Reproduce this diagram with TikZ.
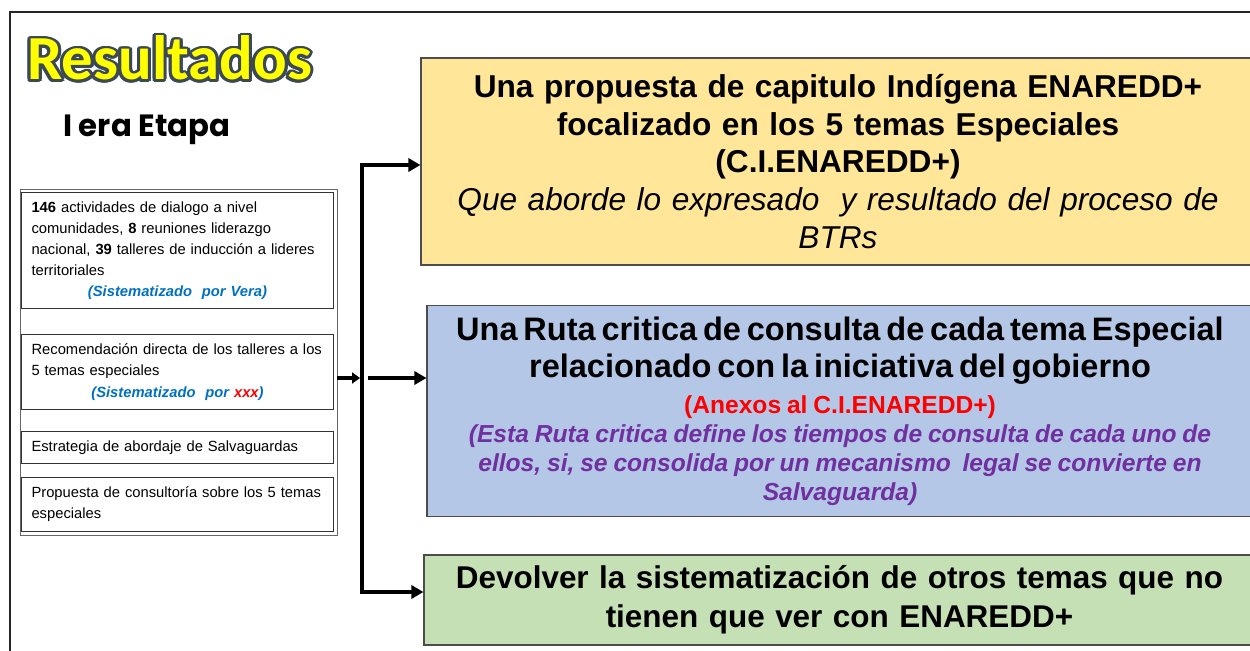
\documentclass[tikz,border=0pt]{standalone}
\usepackage{fontspec}
\setmainfont{Liberation Sans}
\newfontfamily\titlefont{Carlito}
\newfontfamily\etapafont{Poppins}
\usetikzlibrary{arrows.meta,positioning}

\definecolor{ybg}{HTML}{FFE699}
\definecolor{bbg}{HTML}{B4C7E7}
\definecolor{gbg}{HTML}{C5E0B4}
\definecolor{sysblue}{HTML}{0070C0}
\definecolor{rutapurple}{HTML}{7030A0}
\definecolor{titleedge}{HTML}{3B4856}
\definecolor{titlefill}{HTML}{FFFF00}

\tikzset{
  leftbox/.style={draw=black!80, line width=0.6pt, anchor=north west, minimum width=6.24cm,
    inner xsep=0.2cm, inner ysep=0pt, text width=5.84cm, align=left,
    font=\fontsize{8.4}{12}\selectfont},
  resbox/.style={draw=black!70, line width=0.7pt, inner sep=0pt, align=center},
  titletext/.style={anchor=base west, inner sep=0pt, font=\titlefont\bfseries\fontsize{35.7}{36}\selectfont},
  arr/.style={line width=2.3pt, -{Triangle[length=0.24cm,width=0.26cm]}},
  shortarr/.style={line width=2.3pt, -{Triangle[length=0.16cm,width=0.22cm]}},
}

\begin{document}
\begin{tikzpicture}[x=0.02cm,y=-0.02cm]
\useasboundingbox (0,0) rectangle (1250,651);
\clip (0,0) rectangle (1250,651);

\draw[line width=1pt, black!85] (10,670) |- (1270,12);

\coordinate (tpos) at (27,80);
\foreach \a in {0,20,...,340}
  \node[titletext, text=titleedge] (edge\a) at ([shift={(\a:0.06cm)}]tpos) {Resultados};
\node[titletext, text=titlefill] (title) at (tpos) {Resultados};

\node[anchor=base west, inner sep=0pt, font=\etapafont\bfseries\fontsize{17.5}{17.5}\selectfont] (etapa) at (63,137) {I era Etapa};

\node[draw=black!60, line width=0.4pt, minimum width=6.34cm, minimum height=6.92cm] (grp) at (178.5,362) {};

\node[leftbox, minimum height=2.32cm] (box1) at (21,192)
  {\textbf{146} actividades de dialogo a nivel\\ comunidades, \textbf{8} reuniones liderazgo\\
   nacional, \textbf{39} talleres de inducción a lideres\\ territoriales\par
   {\centering\bfseries\itshape\color{sysblue}(Sistematizado\ \ por Vera)\par}};
\node[leftbox, minimum height=1.5cm] (box2) at (21,334)
  {Recomendación directa de los talleres a los\\ 5 temas especiales\par
   {\centering\bfseries\itshape\color{sysblue}(Sistematizado\ \ por {\color{red}xxx})\par}};
\node[leftbox, minimum height=0.64cm] (box3) at (21,431) {Estrategia de abordaje de Salvaguardas};
\node[leftbox, minimum height=1.08cm] (box4) at (21,477) {Propuesta de consultoría sobre los 5 temas\\ especiales};

\node[resbox, fill=ybg, minimum width=16.68cm, minimum height=4.14cm, text width=16.3cm,
  font=\fontsize{18}{21.5}\selectfont] (ybox) at (838,161.5)
  {{\bfseries Una propuesta de capitulo Indígena ENAREDD+\\ focalizado en los 5 temas Especiales\\ (C.I.ENAREDD+)}\\
   \textit{Que aborde lo expresado\ \ y resultado del proceso de\\ BTRs}};

\node[resbox, fill=bbg, minimum width=16.52cm, minimum height=4.22cm, text width=16.3cm] (bbox) at (840,411)
  {{\fontsize{18.5}{21}\selectfont\bfseries Una Ruta critica de consulta de cada tema Especial\\ relacionado con la iniciativa del gobierno\par}
   {\fontsize{14}{21}\selectfont\bfseries\color{red}(Anexos al C.I.ENAREDD+)\par}
   {\fontsize{14}{16.4}\selectfont\bfseries\itshape\color{rutapurple}(Esta Ruta critica define los tiempos de consulta de cada uno de\\
    ellos, si, se consolida por un mecanismo\ \ legal se convierte en\\ Salvaguarda)\par}};

\node[resbox, fill=gbg, minimum width=16.62cm, minimum height=1.8cm, text width=16.3cm,
  font=\fontsize{17.9}{22}\selectfont\bfseries] (gbox) at (839.5,600)
  {Devolver la sistematización de otros temas que no\\ tienen que ver con ENAREDD+};

\coordinate (hub) at (362,378);
\draw[arr] (hub) |- ([yshift=-0.07cm]ybox.west);
\draw[arr] (hub) |- ([yshift=0.16cm]gbox.west);
\draw[shortarr] (grp.east |- hub) -- ([xshift=-0.04cm]hub);
\draw[arr] ([xshift=0.12cm]hub) -- (bbox.west |- hub);

\end{tikzpicture}
\end{document}
